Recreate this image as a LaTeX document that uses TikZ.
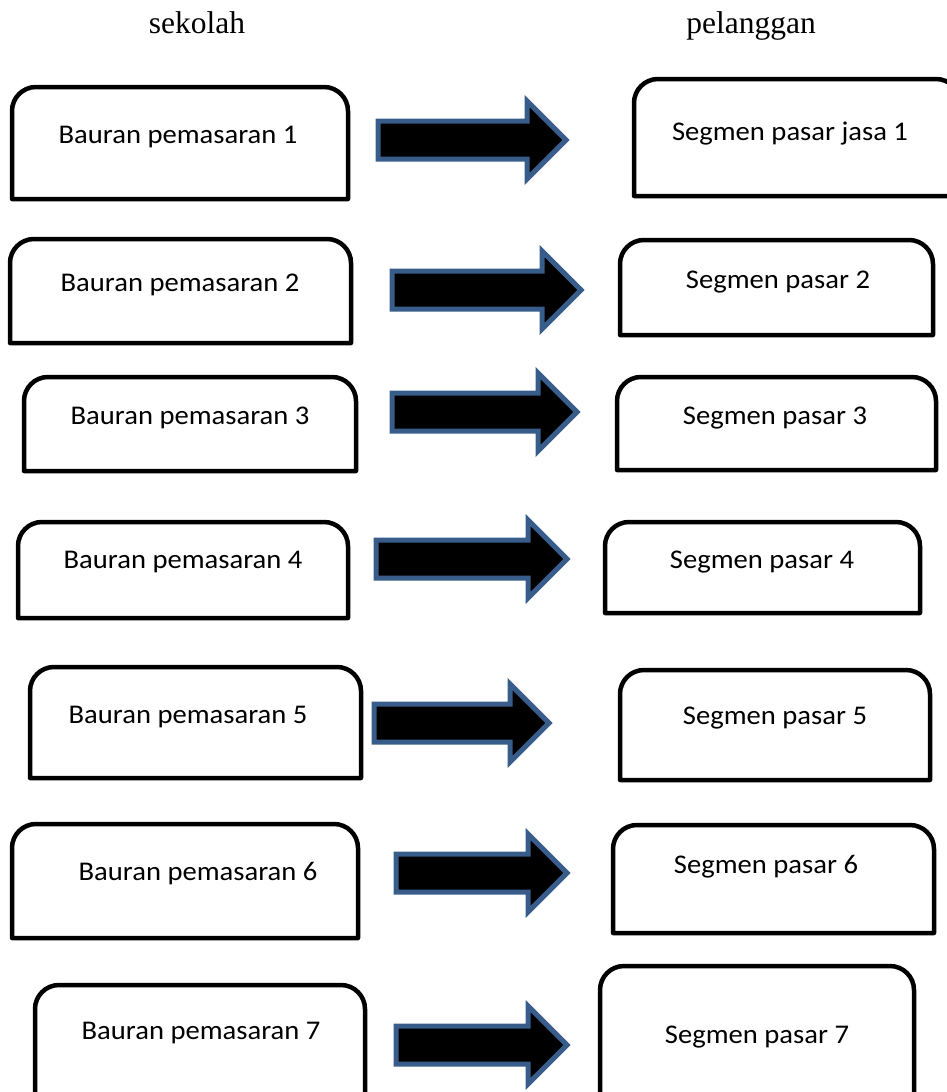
\documentclass[tikz,border=0pt]{standalone}
\usepackage{fontspec}
\setmainfont{Liberation Serif}
\newfontfamily\calibri[FakeStretch=1.06]{Carlito}
\usepackage{xcolor}
\usetikzlibrary{shapes.arrows,positioning}

\definecolor{arrowblue}{RGB}{56,93,138}

% box with rounded top corners round an empty node
\newcommand{\topbox}[1]{%
  \draw[line width=4.5pt, line join=round] (#1.south west) -- ([yshift=-24pt]#1.north west)
    arc[start angle=180, end angle=90, radius=24pt] -- ([xshift=-24pt]#1.north east)
    arc[start angle=90, end angle=0, radius=24pt] -- (#1.south east) -- cycle;}

\begin{document}
\begin{tikzpicture}[x=1pt, y=-1pt,
    box/.style={inner sep=0pt, outer sep=0pt},
    boxtext/.style={anchor=base, inner sep=0pt, font=\calibri\fontsize{27}{32}\selectfont},
    headtext/.style={anchor=base, inner sep=0pt, font=\fontsize{31.5}{36}\selectfont},
    blockarrow/.style={single arrow, anchor=tail, fill=black, draw=arrowblue, line width=5pt,
      inner sep=16.5pt, single arrow head extend=20pt, minimum height=#1}]
  \useasboundingbox (0,0) rectangle (947,1092);

  \node[headtext] (sek) at (197,33) {sekolah};
  \node[headtext] (pel) at (751,33) {pelanggan};

  % left column
  \node[box, minimum width=336pt, minimum height=112pt] (l1) at (180,143) {};
  \node[box, minimum width=341pt, minimum height=104pt] (l2) at (180.5,291) {};
  \node[box, minimum width=332pt, minimum height=94pt] (l3) at (190,424) {};
  \node[box, minimum width=330pt, minimum height=96pt] (l4) at (183,570) {};
  \node[box, minimum width=331pt, minimum height=111pt] (l5) at (195.5,722.5) {};
  \node[box, minimum width=346pt, minimum height=114pt] (l6) at (185,881) {};
  \node[box, minimum width=330pt, minimum height=115pt] (l7) at (200,1042.5) {};

  % right column
  \node[box, minimum width=326pt, minimum height=117pt] (r1) at (797,137.5) {};
  \node[box, minimum width=313pt, minimum height=95pt] (r2) at (776.5,287.5) {};
  \node[box, minimum width=319pt, minimum height=93pt] (r3) at (776.5,423.5) {};
  \node[box, minimum width=315pt, minimum height=91pt] (r4) at (762.5,567.5) {};
  \node[box, minimum width=310pt, minimum height=110pt] (r5) at (775,725) {};
  \node[box, minimum width=321pt, minimum height=108pt] (r6) at (773.5,879) {};
  \node[box, minimum width=314pt, minimum height=134pt] (r7) at (757,1033) {};

  \foreach \b in {l1,l2,l3,l4,l5,l6,l7,r1,r2,r3,r4,r5,r6,r7}
    \topbox{\b};

  \node[boxtext] (l1t) at (178,143) {Bauran pemasaran 1};
  \node[boxtext] (l2t) at (180,291) {Bauran pemasaran 2};
  \node[boxtext] (l3t) at (190,424) {Bauran pemasaran 3};
  \node[boxtext] (l4t) at (183,568) {Bauran pemasaran 4};
  \node[boxtext] (l5t) at (188,723) {Bauran pemasaran 5};
  \node[boxtext] (l6t) at (198,880) {Bauran pemasaran 6};
  \node[boxtext] (l7t) at (201,1039) {Bauran pemasaran 7};

  \node[boxtext] (r1t) at (790,140) {Segmen pasar jasa 1};
  \node[boxtext] (r2t) at (778,288) {Segmen pasar 2};
  \node[boxtext] (r3t) at (775,424) {Segmen pasar 3};
  \node[boxtext] (r4t) at (762,568) {Segmen pasar 4};
  \node[boxtext] (r5t) at (775,724) {Segmen pasar 5};
  \node[boxtext] (r6t) at (766,873) {Segmen pasar 6};
  \node[boxtext] (r7t) at (757,1043) {Segmen pasar 7};

  % block arrows
  \node[blockarrow=188pt] (a1) at (375.5,140) {};
  \node[blockarrow=189pt] (a2) at (389.5,290) {};
  \node[blockarrow=185pt] (a3) at (389.5,412) {};
  \node[blockarrow=191pt] (a4) at (373.5,559) {};
  \node[blockarrow=175pt] (a5) at (371.5,723) {};
  \node[blockarrow=171pt] (a6) at (393.5,873) {};
  \node[blockarrow=171pt] (a7) at (393.5,1045) {};
\end{tikzpicture}
\end{document}
